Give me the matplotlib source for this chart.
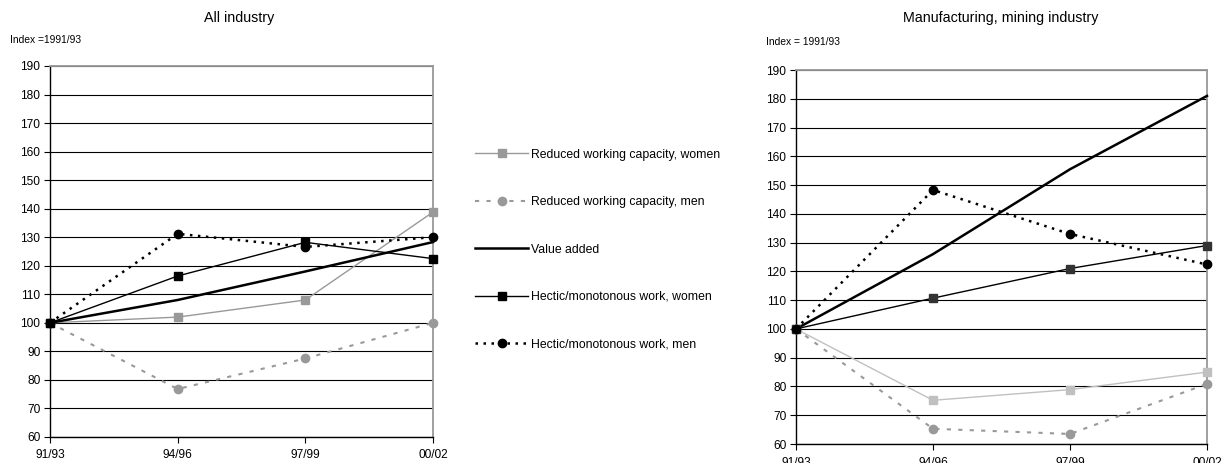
import matplotlib
matplotlib.use("Agg")
import matplotlib.pyplot as plt
from matplotlib.lines import Line2D

plt.rcParams['font.family'] = ['Liberation Sans', 'DejaVu Sans']

periods = ["91/93", "94/96", "97/99", "00/02"]
series_names = ["Reduced working capacity, women", "Reduced working capacity, men",
                "Value added", "Hectic/monotonous work, women", "Hectic/monotonous work, men"]

# All industry
all_red_women = [100, 102, 108, 138.8]
all_red_men = [100, 76.8, 87.5, 100]
all_value_added = [100, 108, 118, 128.3]
all_hectic_women = [100, 116.4, 128.2, 122.5]
all_hectic_men = [100, 131.2, 126.6, 130]

# Manufacturing, mining industry
man_red_women = [100, 75.2, 78.9, 85]
man_red_men = [100, 65.3, 63.5, 80.9]
man_value_added = [100, 126, 155.5, 181]
man_hectic_women = [100, 110.7, 121, 129]
man_hectic_men = [100, 148.3, 133, 122.4]

yticks = list(range(60, 200, 10))

fig = plt.figure(figsize=(12.28, 4.63), dpi=100)


def style_axes(ax):
    ax.set_xlim(0, 3)
    ax.set_ylim(60, 190)
    ax.set_yticks(yticks)
    ax.set_xticks(range(len(periods)))
    ax.set_xticklabels(periods)
    ax.tick_params(axis='both', labelsize=8.6, length=4, width=0.8, color='black', pad=3)
    ax.tick_params(axis='x', pad=5)
    ax.yaxis.grid(True, color='black', linewidth=0.8)
    ax.set_axisbelow(True)
    for s in ['left', 'bottom']:
        ax.spines[s].set_color('black')
        ax.spines[s].set_linewidth(1.0)
    for s in ['top', 'right']:
        ax.spines[s].set_color('#999999')
        ax.spines[s].set_linewidth(1.3)


def draw(ax, red_w, red_m, va, hw, hm, rw_col, hw_col):
    x = range(len(periods))
    ax.plot(x, red_w, color=rw_col, lw=1.0, marker='s', ms=6, clip_on=False, zorder=3)
    ax.plot(x, red_m, color='#999999', lw=1.5, ls=(0, (2, 3.5)), marker='o', ms=6,
            clip_on=False, zorder=3)
    ax.plot(x, va, color='black', lw=1.8, clip_on=False, zorder=4)
    ax.plot(x, hw, color='black', lw=1.0, marker='s', ms=6, mfc=hw_col, mec=hw_col,
            clip_on=False, zorder=4)
    ax.plot(x, hm, color='black', lw=1.8, ls=(0, (1, 2.2)), marker='o', ms=6,
            clip_on=False, zorder=5)


ax1 = fig.add_axes([0.0407, 0.0562, 0.3119, 0.8013])
style_axes(ax1)
draw(ax1, all_red_women, all_red_men, all_value_added, all_hectic_women, all_hectic_men,
     '#999999', 'black')
fig.text(0.195, 0.962, "All industry", ha='center', va='center', fontsize=10.3)
fig.text(0.008, 0.913, "Index =1991/93", ha='left', va='center', fontsize=7.4)

ax2 = fig.add_axes([0.6482, 0.041, 0.3347, 0.8078])
style_axes(ax2)
draw(ax2, man_red_women, man_red_men, man_value_added, man_hectic_women, man_hectic_men,
     '#c0c0c0', '#333333')
fig.text(0.8145, 0.962, "Manufacturing, mining industry", ha='center', va='center', fontsize=10.3)
fig.text(0.624, 0.909, "Index = 1991/93", ha='left', va='center', fontsize=7.4)

handles = [
    Line2D([], [], color='#999999', lw=1.0, marker='s', ms=6),
    Line2D([], [], color='#999999', lw=1.5, ls=(0, (2, 3.5)), marker='o', ms=6),
    Line2D([], [], color='black', lw=1.8),
    Line2D([], [], color='black', lw=1.0, marker='s', ms=6),
    Line2D([], [], color='black', lw=1.8, ls=(0, (1, 2.2)), marker='o', ms=6),
]
fig.legend(handles, series_names, loc='upper left', bbox_to_anchor=(0.3868, 0.679),
           frameon=False, fontsize=8.8, labelspacing=2.9, handlelength=4.35,
           handletextpad=0.25, numpoints=1, borderaxespad=0, borderpad=0)

fig.savefig("out.png", dpi=100)
